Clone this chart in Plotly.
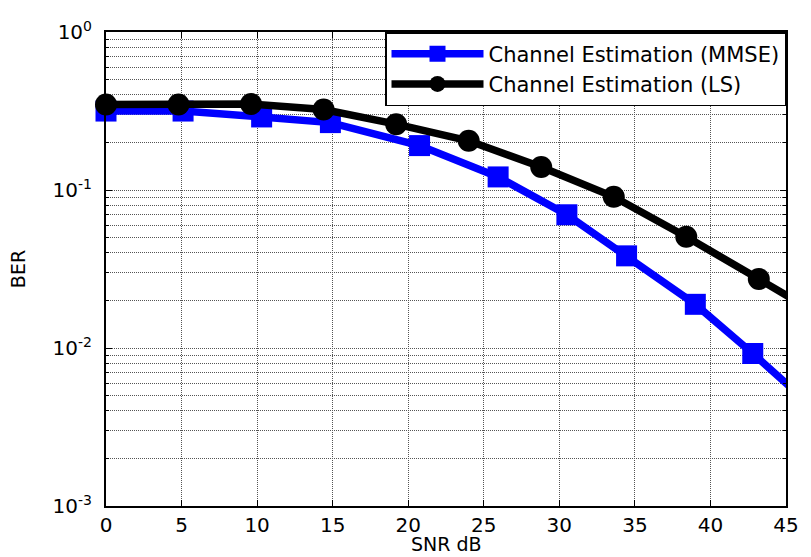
import plotly.graph_objects as go

# ---- data ----
snr_mmse = [0, 5.1, 10.3, 14.85, 20.75, 25.95, 30.5, 34.45, 39.0, 42.8, 47.0]
ber_mmse = [0.316, 0.316, 0.290, 0.267, 0.191, 0.121, 0.0697, 0.0383, 0.0189, 0.00923, 0.00404]

snr_ls = [0, 4.8, 9.6, 14.4, 19.2, 24.0, 28.8, 33.6, 38.4, 43.2, 48.0]
ber_ls = [0.348, 0.348, 0.350, 0.323, 0.261, 0.205, 0.140, 0.0906, 0.0506, 0.0273, 0.0146]

x_ticks = [0, 5, 10, 15, 20, 25, 30, 35, 40, 45]
y_ticks = [0.001, 0.01, 0.1, 1]
y_ticktext = ["10<sup>-3</sup>", "10<sup>-2</sup>", "10<sup>-1</sup>", "10<sup>0</sup>"]
y_minor = [m * 10 ** e for e in (-3, -2, -1) for m in range(2, 10)]

FONT = "DejaVu Sans, Liberation Sans, Arial, sans-serif"
GRID_COLOR = "#555555"
GRID_DASH = "1px,1px"

fig = go.Figure()
fig.add_trace(go.Scatter(
    x=snr_mmse, y=ber_mmse, mode="lines+markers",
    name="Channel Estimation (MMSE)",
    line=dict(color="#0000FF", width=7.5),
    marker=dict(symbol="square", size=21, color="#0000FF",
                line=dict(color="#0000FF", width=0)),
    cliponaxis=False,
))
fig.add_trace(go.Scatter(
    x=snr_ls, y=ber_ls, mode="lines+markers",
    name="Channel Estimation (LS)",
    line=dict(color="#000000", width=7.5),
    marker=dict(symbol="circle", size=22, color="#000000",
                line=dict(color="#000000", width=0)),
    cliponaxis=False,
))

fig.update_layout(
    width=811, height=557,
    margin=dict(l=106, r=15, t=32, b=51, pad=0),
    paper_bgcolor="white", plot_bgcolor="white",
    font=dict(family=FONT, size=20, color="black"),
    showlegend=True,
    legend=dict(
        x=1, y=1, xanchor="right", yanchor="top",
        bgcolor="white", bordercolor="black", borderwidth=1.5,
        font=dict(family=FONT, size=21, color="black"),
        itemwidth=92, tracegroupgap=0,
    ),
    xaxis=dict(
        range=[0, 45], tickmode="array", tickvals=x_ticks,
        ticks="inside", ticklen=6, tickwidth=1, tickcolor="black",
        showline=True, linecolor="black", linewidth=2, mirror="allticks",
        showgrid=True, zeroline=False,
        gridcolor=GRID_COLOR, gridwidth=1, griddash=GRID_DASH,
        tickfont=dict(family=FONT, size=20, color="black"),
        ticklabelstandoff=0,
    ),
    yaxis=dict(
        type="log", range=[-3, 0], tickmode="array", tickvals=y_ticks, ticktext=y_ticktext,
        ticks="inside", ticklen=6, tickwidth=1, tickcolor="black",
        showline=True, linecolor="black", linewidth=2, mirror="allticks",
        showgrid=True, zeroline=False,
        gridcolor=GRID_COLOR, gridwidth=1, griddash=GRID_DASH,
        tickfont=dict(family=FONT, size=20, color="black"),
        ticklabelstandoff=8,
        title=dict(text="BER", font=dict(family=FONT, size=19, color="black"), standoff=22),
        minor=dict(tickmode="array", tickvals=y_minor, ticks="inside", ticklen=3,
                   tickcolor="black", showgrid=True, gridcolor=GRID_COLOR,
                   gridwidth=1, griddash=GRID_DASH),
    ),
    annotations=[dict(
        text="SNR dB", xref="paper", yref="paper", x=0.5, y=0, yshift=-50,
        xanchor="center", yanchor="bottom", showarrow=False, borderpad=0,
        font=dict(family=FONT, size=19, color="black"),
    )],
)

fig.write_html("out.html")
